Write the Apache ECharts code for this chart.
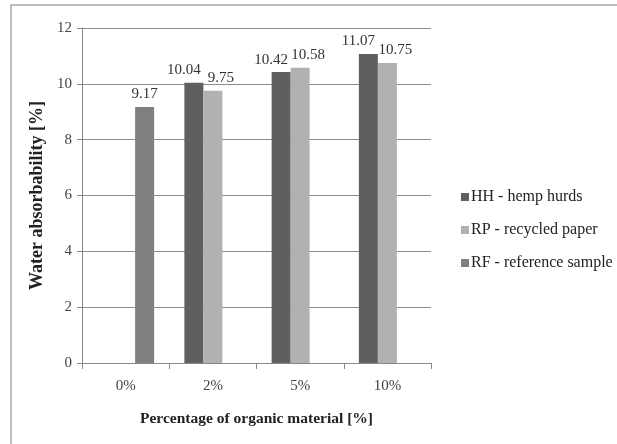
<!DOCTYPE html>
<html>
<head>
<meta charset="utf-8">
<script src="https://cdn.jsdelivr.net/npm/echarts@6/dist/echarts.min.js"></script>
<style>
html, body { margin: 0; padding: 0; background: #fff; }
#chart { width: 617px; height: 444px; }
</style>
</head>
<body>
<div id="chart"></div>
<script>
// Water absorbability by organic material content
const categories = ['0%', '2%', '5%', '10%'];
const seriesNames = ['HH - hemp hurds', 'RP - recycled paper', 'RF - reference sample'];
const hempHurds = [null, 10.04, 10.42, 11.07];
const recycledPaper = [null, 9.75, 10.58, 10.75];
const referenceSample = [9.17, null, null, null];
const yTicks = [0, 2, 4, 6, 8, 10, 12];

const FONT = '"Liberation Serif", "DejaVu Serif", serif';
const colors = ['#5f5f61', '#b1b1b3', '#7f7f81'];

const chart = echarts.init(document.getElementById('chart'));

// Paired bars push their value labels apart so they don't collide
function barSeries(name, data, color, labelShift) {
  return {
    name: name,
    type: 'bar',
    data: data,
    barWidth: 19,
    barGap: '0%',
    itemStyle: { color: color },
    label: {
      show: true,
      position: 'top',
      distance: 5,
      offset: [labelShift, 0],
      color: '#333',
      fontFamily: FONT,
      fontSize: 15,
      formatter: p => p.value == null ? '' : p.value.toFixed(2)
    }
  };
}

chart.setOption({
  animation: false,
  backgroundColor: '#fff',
  grid: { left: 82, top: 28, right: 186, bottom: 81 },
  graphic: [{
    type: 'rect',
    shape: { x: 11, y: 5, width: 700, height: 500 },
    style: { fill: 'none', stroke: '#a8a8a8', lineWidth: 1.5 },
    silent: true
  }],
  legend: {
    orient: 'vertical',
    left: 456,
    top: 184,
    itemWidth: 8,
    itemHeight: 8,
    itemGap: 17,
    icon: 'rect',
    textStyle: { fontFamily: FONT, fontSize: 16, color: '#222', padding: [0, 0, 0, -3] },
    data: seriesNames
  },
  xAxis: {
    type: 'category',
    data: categories,
    axisLine: { lineStyle: { color: '#888' } },
    axisTick: { show: true, length: 6, lineStyle: { color: '#888' } },
    axisLabel: { fontFamily: FONT, fontSize: 15, color: '#444', margin: 16 },
    name: 'Percentage of organic material [%]',
    nameLocation: 'middle',
    nameGap: 48,
    nameTextStyle: { fontFamily: FONT, fontSize: 15.5, fontWeight: 'bold', color: '#222' }
  },
  yAxis: {
    type: 'value',
    min: yTicks[0],
    max: yTicks[yTicks.length - 1],
    interval: 2,
    axisLine: { show: true, lineStyle: { color: '#888' } },
    axisTick: { show: true, length: 5, lineStyle: { color: '#888' } },
    splitLine: { lineStyle: { color: '#8c8c8c' } },
    axisLabel: { fontFamily: FONT, fontSize: 15, color: '#444', margin: 10 },
    name: 'Water absorbability [%]',
    nameLocation: 'middle',
    nameGap: 30,
    nameTextStyle: { fontFamily: FONT, fontSize: 18, fontWeight: 'bold', color: '#222' }
  },
  series: [
    barSeries(seriesNames[0], hempHurds, colors[0], -10),
    barSeries(seriesNames[1], recycledPaper, colors[1], 8),
    barSeries(seriesNames[2], referenceSample, colors[2], 0)
  ]
});
</script>
</body>
</html>
